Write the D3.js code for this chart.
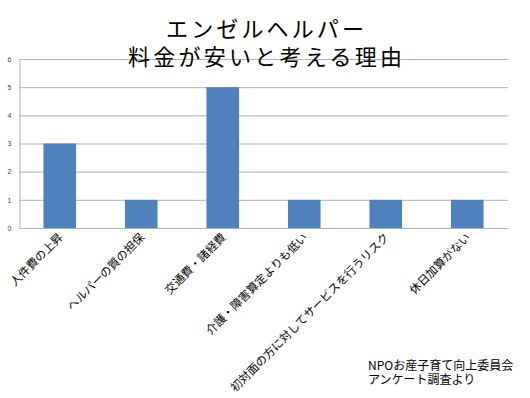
<!DOCTYPE html>
<html>
<head>
<meta charset="utf-8">
<script src="https://cdn.jsdelivr.net/npm/d3@7"></script>
<style>
  body { margin: 0; background: #fff; }
  text { font-family: "Noto Sans CJK JP", "Noto Sans", sans-serif; }
</style>
</head>
<body>
<div id="viz"></div>
<script>
// data
let categories = ['人件費の上昇', 'ヘルパーの質の担保', '交通費・諸経費', '介護・障害算定よりも低い', '初対面の方に対してサービスを行うリスク', '休日加算がない']
let values = [3, 1, 5, 1, 1, 1]
let yTicks = [0, 1, 2, 3, 4, 5, 6]
let titleLines = ['エンゼルヘルパー', '料金が安いと考える理由']
let sourceLines = ['NPOお産子育て向上委員会', 'アンケート調査より']

let width = 530, height = 398
let plot = {left: 19, right: 508, top: 59, bottom: 228}

let svg = d3.select('#viz')
			.append('svg')
			.attr('width', width)
			.attr('height', height)

let x = d3.scaleBand()
			.domain(categories)
			.range([plot.left, plot.right])
			.paddingInner(0.6)
			.paddingOuter(0.3)

let y = d3.scaleLinear()
			.domain([0, 6])
			.range([plot.bottom, plot.top])

//gridlines
svg.append('g')
	.selectAll('line')
	.data(yTicks)
	.enter()
	.append('line')
	.attr('x1', plot.left)
	.attr('x2', plot.right)
	.attr('y1', d => y(d) + 0.5)
	.attr('y2', d => y(d) + 0.5)
	.attr('stroke', '#b3b3b3')
	.attr('stroke-width', 1)

//y axis
let yAxis = svg.append('g')
				.attr('transform', `translate(${plot.left + 0.5},0)`)
				.call(d3.axisLeft(y).tickValues(yTicks).tickFormat(d3.format('d')).tickSize(0).tickPadding(8))
yAxis.select('.domain').attr('stroke', '#b3b3b3')
yAxis.selectAll('text')
	.attr('font-size', 7)
	.attr('fill', '#404040')
	.style('font-family', '"Liberation Sans", sans-serif')

//bars
svg.append('g')
	.selectAll('rect')
	.data(values)
	.enter()
	.append('rect')
	.attr('x', (d, i) => x(categories[i]))
	.attr('y', d => y(d))
	.attr('width', x.bandwidth())
	.attr('height', d => y(0) - y(d))
	.attr('fill', '#4f81bd')

//category labels rotated
svg.append('g')
	.selectAll('text')
	.data(categories)
	.enter()
	.append('text')
	.attr('transform', d => `translate(${x(d) + x.bandwidth() / 2 + 4},${plot.bottom + 10}) rotate(-45)`)
	.attr('text-anchor', 'end')
	.attr('font-size', 11.5)
	.attr('fill', '#000')
	.text(d => d)

//title - one text, two lines, stretched to the original widths
let titleWidths = [198, 274]
svg.append('text')
	.attr('font-size', 22)
	.attr('fill', '#000')
	.selectAll('tspan')
	.data(titleLines)
	.enter()
	.append('tspan')
	.attr('x', (d, i) => 265 - titleWidths[i] / 2)
	.attr('y', (d, i) => 37 + i * 28)
	.attr('textLength', (d, i) => titleWidths[i])
	.attr('lengthAdjust', 'spacing')
	.text(d => d)

//source note
svg.append('text')
	.attr('font-size', 12)
	.attr('fill', '#000')
	.selectAll('tspan')
	.data(sourceLines)
	.enter()
	.append('tspan')
	.attr('x', 368)
	.attr('y', (d, i) => 370 + i * 14)
	.text(d => d)
</script>
</body>
</html>
